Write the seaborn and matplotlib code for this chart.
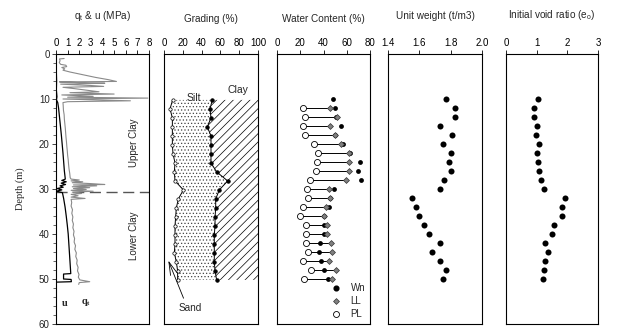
import matplotlib
matplotlib.use("Agg")
import matplotlib.pyplot as plt
import pandas as pd
import seaborn as sns
from matplotlib.lines import Line2D
from matplotlib.ticker import MultipleLocator, FormatStrFormatter

# ---------------- data ----------------
# CPT cone resistance q_t (MPa) versus depth (m)
qt_depth = [1.0, 1.1, 1.5, 1.9, 2.3, 2.5, 2.8, 3.0, 3.3, 3.6, 4.0, 4.6, 5.2, 5.7, 6.1,
            6.2, 6.4, 6.5, 6.7, 7.0, 7.2, 7.4, 7.7, 8.1, 8.4, 8.6, 8.9, 9.1, 9.4, 9.6,
            9.8, 10.0, 10.2, 10.4, 10.6, 10.8,
            11.5, 12.5, 13.5, 14.5, 15.5, 16.5, 17.5, 18.5, 19.5, 20.5, 21.5, 22.5,
            23.5, 24.5, 25.5, 26.5, 27.5,
            27.8, 28.0, 28.2, 28.4, 28.6, 28.8, 29.0, 29.1, 29.3, 29.5, 29.7, 29.9,
            30.1, 30.3, 30.5, 30.7, 31.0, 31.2, 31.5, 31.8, 32.1, 32.3,
            33.0, 33.8, 34.6, 35.4, 36.2, 37.0, 37.8, 38.6, 39.4, 40.2, 41.0, 41.8,
            42.6, 43.4, 44.2, 45.0, 45.8, 46.6, 47.4, 48.2, 49.0, 49.6, 50.2, 50.6,
            50.8, 51.2]
qt_value = [0.70, 0.30, 0.35, 0.28, 0.40, 0.85, 0.92, 0.50, 0.75, 0.60, 1.20, 2.30, 3.40, 4.50, 5.20,
            0.30, 2.40, 4.20, 0.40, 3.00, 4.10, 0.60, 1.60, 2.80, 3.70, 1.20, 5.00, 0.50, 3.20, 1.00,
            7.90, 0.60, 3.50, 6.40, 1.00, 0.60,
            0.62, 0.64, 0.70, 0.72, 0.76, 0.80, 0.83, 0.86, 0.90, 0.93, 0.97, 1.00,
            1.05, 1.08, 1.12, 1.18, 1.22,
            1.30, 2.00, 1.30, 2.30, 1.40, 3.00, 4.20, 1.50, 3.50, 1.40, 2.90, 1.50,
            2.60, 1.30, 3.20, 1.40, 2.20, 1.30, 1.90, 1.30, 2.50, 1.30,
            1.35, 1.30, 1.42, 1.36, 1.45, 1.40, 1.50, 1.45, 1.55, 1.50, 1.60, 1.56,
            1.68, 1.62, 1.75, 1.70, 1.82, 1.78, 1.90, 1.85, 1.98, 1.92, 2.05, 2.90,
            2.00, 1.95]

# CPT pore pressure u (MPa) versus depth (m)
u_depth = [0.0, 3.0, 6.0, 8.0, 9.5, 10.2, 10.8, 12.0, 14.0, 16.0, 18.0, 20.0, 22.0,
           24.0, 26.0, 27.8, 28.1, 28.4, 28.7, 29.0, 29.3, 29.6, 29.9, 30.2, 30.5,
           30.8, 32.0, 34.0, 36.0, 38.0, 40.0, 42.0, 44.0, 46.0, 48.0, 48.8, 48.9,
           50.0, 50.1, 50.6, 50.7]
u_value = [0.00, 0.02, 0.05, 0.03, 0.08, 0.04, 0.15, 0.22, 0.30, 0.38, 0.46, 0.53, 0.60,
           0.66, 0.72, 0.80, 0.50, 0.88, 0.45, 0.82, 0.35, 0.62, 0.10, 0.50, 0.00,
           0.55, 0.65, 0.78, 0.88, 0.97, 1.05, 1.10, 1.15, 1.20, 1.25, 1.27, 0.65,
           0.65, 1.30, 1.32, 0.00]

# boundary between upper and lower clay (m)
clay_boundary = 30.6

# grading: cumulative sand % and sand+silt % with depth
grading_depth = [10.2, 12.2, 14.2, 16.2, 18.2, 20.2, 22.2, 24.2, 26.2, 28.2, 30.2,
                 32.2, 34.2, 36.2, 38.2, 40.2, 42.2, 44.2, 46.2, 48.2, 50.2]
sand_pct = [9.2, 6.4, 8.9, 8.9, 8.9, 8.9, 9.6, 11.7, 11.0, 11.7, 20.6,
            15.3, 13.1, 12.4, 11.7, 11.7, 11.7, 11.0, 13.1, 14.5, 14.5]
sand_silt_pct = [51.4, 48.9, 50.0, 46.1, 50.0, 50.0, 50.0, 50.0, 56.0, 67.7, 58.9,
                 55.0, 55.0, 54.3, 54.3, 53.5, 53.5, 53.5, 53.5, 54.3, 56.0]

# water content, unit weight and void ratio samples
sample_depth = [10, 12, 14, 16, 18, 20, 22, 24, 26, 28, 30,
                32, 34, 36, 38, 40, 42, 44, 46, 48, 50]
wn = [48.0, 50.3, 51.0, 55.1, 49.8, 57.1, 62.9, 71.4, 70.0, 72.3, 49.1,
      45.3, 44.9, 40.0, 40.0, 40.0, 37.1, 35.7, 38.0, 40.0, 44.3]
limits_depth = [12, 14, 16, 18, 20, 22, 24, 26, 28, 30,
                32, 34, 36, 38, 40, 42, 44, 46, 48, 50]
ll = [45.7, 51.7, 45.7, 50.0, 55.1, 61.7, 62.0, 62.0, 59.4, 45.1,
      45.7, 42.0, 40.0, 42.9, 42.9, 46.6, 47.1, 45.1, 50.6, 47.1]
pl = [22.0, 24.3, 22.0, 24.3, 31.7, 35.1, 34.3, 33.4, 28.0, 25.7,
      26.3, 22.0, 19.4, 25.1, 25.1, 25.1, 26.6, 22.0, 29.1, 22.9]
unit_weight = [1.77, 1.83, 1.83, 1.73, 1.81, 1.75, 1.80, 1.79, 1.80, 1.76, 1.73,
               1.55, 1.58, 1.60, 1.63, 1.66, 1.73, 1.68, 1.73, 1.77, 1.75]
void_ratio = [1.05, 0.91, 0.92, 1.02, 0.99, 1.08, 1.01, 1.05, 1.06, 1.14, 1.25,
              1.92, 1.82, 1.81, 1.55, 1.49, 1.27, 1.38, 1.27, 1.23, 1.22]

titles = [r"q$_\mathrm{t}$ & u (MPa)", "Grading (%)", "Water Content (%)",
          "Unit weight (t/m3)", r"Initial void ratio (e$_\mathrm{o}$)"]

# ---------------- style ----------------
sns.set_style("ticks")
plt.rcParams["font.family"] = ["Liberation Sans", "DejaVu Sans"]
plt.rcParams["mathtext.fontset"] = "custom"
plt.rcParams["mathtext.rm"] = "Liberation Sans"
plt.rcParams["mathtext.it"] = "Liberation Sans:italic"
plt.rcParams["mathtext.bf"] = "Liberation Serif:bold"
plt.rcParams["hatch.linewidth"] = 0.5

W, H = 617, 329
fig = plt.figure(figsize=(W / 100, H / 100), dpi=100)
fig.patch.set_facecolor("white")

panel_px = [(56, 93), (164, 94), (277, 93), (388, 94), (506, 92)]
top_px, bot_px = 54, 324
axes = [fig.add_axes([l / W, 1 - bot_px / H, w / W, (bot_px - top_px) / H])
        for l, w in panel_px]
title_y = [1.140, 1.129, 1.129, 1.140, 1.144]
xlims = [(0, 8), (0, 100), (0, 80), (1.4, 2.0), (0, 3)]
xticks = [list(range(0, 9)), [0, 20, 40, 60, 80, 100], [0, 20, 40, 60, 80],
          [1.4, 1.6, 1.8, 2.0], [0, 1, 2, 3]]

for ax, t, ty, xl, xt in zip(axes, titles, title_y, xlims, xticks):
    ax.set_xlim(*xl)
    ax.set_xticks(xt)
    ax.set_ylim(60, 0)
    ax.xaxis.tick_top()
    ax.tick_params(axis="x", direction="out", length=3, width=0.6, pad=1.5,
                   labelsize=7, colors="black")
    ax.tick_params(axis="y", left=False, labelleft=False)
    for s in ax.spines.values():
        s.set_visible(True)
        s.set_linewidth(0.8)
        s.set_color("black")
    ax.text(0.5, ty, t, transform=ax.transAxes, ha="center", va="center", fontsize=7.2)
    ax.set_facecolor("white")

axes[3].xaxis.set_major_formatter(FormatStrFormatter("%.1f"))

# ---------------- panel 1: CPT ----------------
ax = axes[0]
ax.tick_params(axis="y", left=True, labelleft=True, which="major", length=3,
               width=0.6, labelsize=7, direction="out", pad=1.5)
ax.tick_params(axis="y", left=True, which="minor", length=2, width=0.5, direction="out")
ax.set_yticks(range(0, 61, 10))
ax.yaxis.set_minor_locator(MultipleLocator(2))
cpt_qt = pd.DataFrame({"depth": qt_depth, "q": qt_value})
cpt_u = pd.DataFrame({"depth": u_depth, "u": u_value})
sns.lineplot(data=cpt_qt, x="q", y="depth", sort=False, estimator=None,
             color="#8a8a8a", lw=0.8, ax=ax)
sns.lineplot(data=cpt_u, x="u", y="depth", sort=False, estimator=None,
             color="black", lw=0.9, ax=ax)
ax.set_xlabel("")
ax.set_ylabel("Depth (m)", fontfamily=["Liberation Serif"], fontsize=7.5)
ax.yaxis.set_label_coords(-0.33, 0.50)
ax.axhline(clay_boundary, xmin=0.0, xmax=1.0, color="#555555", lw=1.0,
           ls=(0, (8, 4)), zorder=1)
ax.text(6.7, 19.8, "Upper Clay", rotation=90, ha="center", va="center", fontsize=7)
ax.text(6.7, 40.4, "Lower Clay", rotation=90, ha="center", va="center", fontsize=7)
ax.text(0.78, 55.3, r"$\mathbf{u}$", ha="center", va="center", fontsize=7.5)
ax.text(2.6, 55.3, r"$\mathbf{q_t}$", ha="center", va="center", fontsize=7.5)

# ---------------- panel 2: grading ----------------
ax = axes[1]
ax.fill_betweenx(grading_depth, sand_pct, sand_silt_pct, facecolor="none",
                 edgecolor="#444444", hatch=".....", linewidth=0)
ax.fill_betweenx(grading_depth, sand_silt_pct, 100, facecolor="none",
                 edgecolor="black", hatch="////", linewidth=0)
grad = pd.DataFrame({"depth": grading_depth, "sand": sand_pct, "silt": sand_silt_pct})
sns.lineplot(data=grad, x="sand", y="depth", sort=False, estimator=None, color="black",
             lw=0.7, marker="o", markersize=2.4, markerfacecolor="white",
             markeredgecolor="black", markeredgewidth=0.5, ax=ax)
sns.lineplot(data=grad, x="silt", y="depth", sort=False, estimator=None, color="black",
             lw=0.7, marker="o", markersize=2.4, markerfacecolor="black",
             markeredgecolor="black", ax=ax)
ax.set_xlabel("")
ax.set_ylabel("")
ax.text(32, 9.7, "Silt", ha="center", va="center", fontsize=7.5)
ax.text(78.5, 8.0, "Clay", ha="center", va="center", fontsize=7.5)
ax.annotate("Sand", xy=(4.6, 45.9), xytext=(27.7, 56.4), ha="center", va="center",
            fontsize=7.2,
            arrowprops=dict(arrowstyle="->,head_length=1.3,head_width=0.35", lw=0.6,
                            color="black", shrinkA=1, shrinkB=0, relpos=(0.3, 1.0)))

# ---------------- panel 3: water content ----------------
ax = axes[2]
ax.hlines(limits_depth, pl, ll, color="black", lw=0.7, zorder=2)
wc_n = pd.DataFrame({"depth": sample_depth, "w": wn})
wc_l = pd.DataFrame({"depth": limits_depth, "ll": ll, "pl": pl})
sns.scatterplot(data=wc_n, x="w", y="depth", color="black", s=12, linewidth=0,
                ax=ax, zorder=3)
sns.scatterplot(data=wc_l, x="ll", y="depth", marker="D", color="#808080", s=9,
                edgecolor="#333333", linewidth=0.5, ax=ax, zorder=4)
sns.scatterplot(data=wc_l, x="pl", y="depth", marker="o", color="white", s=19,
                edgecolor="black", linewidth=0.6, ax=ax, zorder=4)
ax.set_xlabel("")
ax.set_ylabel("")
handles = [
    Line2D([], [], ls="", marker="o", color="black", markersize=3.4),
    Line2D([], [], ls="", marker="D", markerfacecolor="#808080",
           markeredgecolor="#333333", markeredgewidth=0.5, markersize=3.0),
    Line2D([], [], ls="", marker="o", markerfacecolor="white",
           markeredgecolor="black", markeredgewidth=0.6, markersize=4.3),
]
ax.legend(handles, ["Wn", "LL", "PL"], loc="lower right", frameon=False, fontsize=7,
          handlelength=1.2, handletextpad=0.9, labelspacing=0.3,
          borderaxespad=0.3, borderpad=0.2)

# ---------------- panel 4: unit weight ----------------
ax = axes[3]
sns.scatterplot(x=unit_weight, y=sample_depth, color="black", s=19, linewidth=0, ax=ax)
ax.set_xlim(1.4, 2.0)
ax.set_ylim(60, 0)

# ---------------- panel 5: void ratio ----------------
ax = axes[4]
sns.scatterplot(x=void_ratio, y=sample_depth, color="black", s=19, linewidth=0, ax=ax)
ax.set_xlim(0, 3)
ax.set_ylim(60, 0)

fig.savefig("out.png", dpi=100, facecolor="white")
